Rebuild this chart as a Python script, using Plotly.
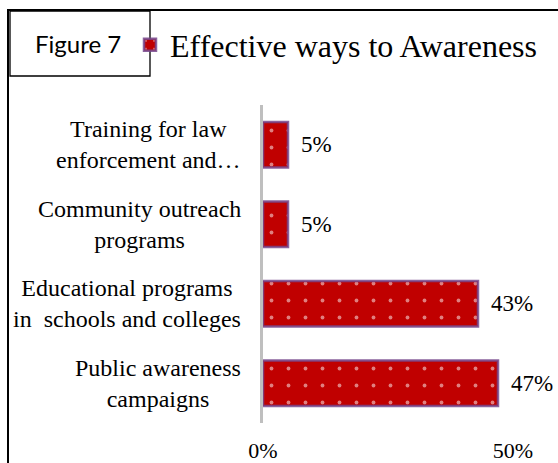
import plotly.graph_objects as go

# Survey results: effective ways to raise awareness (share of respondents, %)
categories = [
    "Public awareness<br>campaigns",
    "Educational programs<br>in  schools and colleges",
    "Community outreach<br>programs",
    "Training for law<br>enforcement and…",
]
values = [47, 43, 5, 5]
value_labels = ["47%", "43%", "5%", "5%"]
x_ticks = [0, 50]
x_tick_labels = ["0%", "50%"]
series_name = "Effective ways to Awareness"

W, H = 558, 463
M_L, M_R, M_T, M_B = 263, 45, 105, 40
PW, PH = W - M_L - M_R, H - M_T - M_B


def px_x(px):
    return (px - M_L) / PW


def px_y(py):
    return (H - M_B - py) / PH


serif = "Liberation Serif, Times New Roman, serif"

fig = go.Figure()
fig.add_trace(go.Bar(
    y=categories,
    x=values,
    orientation="h",
    name=series_name,
    showlegend=True,
    marker=dict(
        color="#C00000",
        line=dict(color="rgba(118,70,140,0.85)", width=2.5),
        pattern=dict(shape=".", fgcolor="white", size=17, solidity=0.04,
                     fillmode="overlay"),
    ),
    hoverinfo="skip",
))

annotations = []
# value labels just beyond each bar end
for cat, v, lab in zip(categories, values, value_labels):
    annotations.append(dict(
        x=v, y=cat, xref="x", yref="y", text=lab, showarrow=False,
        xanchor="left", xshift=11, font=dict(family=serif, size=23, color="black"),
    ))
# category labels, centred lines, right edge just left of the axis
for cat in categories:
    annotations.append(dict(
        x=px_x(243), y=cat, xref="paper", yref="y", text=cat, showarrow=False,
        xanchor="right", align="center",
        font=dict(family=serif, size=24, color="black"),
    ))
# caption box text
annotations.append(dict(
    x=px_x(78), y=px_y(44), xref="paper", yref="paper", text="Figure 7",
    showarrow=False, xanchor="center", yanchor="middle",
    font=dict(family="Lato, Carlito, Calibri, sans-serif", size=24, color="black"),
))

shapes = [
    # outer frame (top and left edges)
    dict(type="line", xref="paper", yref="paper", x0=px_x(7), x1=px_x(W + 5),
         y0=px_y(10), y1=px_y(10), line=dict(color="black", width=2)),
    dict(type="line", xref="paper", yref="paper", x0=px_x(8), x1=px_x(8),
         y0=px_y(10), y1=px_y(H + 5), line=dict(color="black", width=2)),
    # caption box
    dict(type="rect", xref="paper", yref="paper", x0=px_x(10), x1=px_x(150),
         y0=px_y(11), y1=px_y(76), line=dict(color="black", width=1.3),
         fillcolor="white"),
]

fig.update_layout(
    width=W, height=H,
    margin=dict(l=M_L, r=M_R, t=M_T, b=M_B, pad=0, autoexpand=False),
    paper_bgcolor="white", plot_bgcolor="white",
    bargap=0.43,
    showlegend=True,
    legend=dict(
        x=px_x(130), y=px_y(45), xanchor="left", yanchor="middle",
        xref="paper", yref="paper",
        font=dict(family=serif, size=32, color="black"),
        bgcolor="rgba(0,0,0,0)", itemwidth=30,
    ),
    xaxis=dict(
        range=[0, 50], tickvals=x_ticks, ticktext=x_tick_labels,
        showgrid=False, zeroline=False, showline=False, ticks="",
        tickfont=dict(family=serif, size=22, color="black"),
        ticklabelstandoff=12, fixedrange=True, automargin=False,
    ),
    yaxis=dict(
        categoryorder="array", categoryarray=categories,
        showticklabels=False, showgrid=False, zeroline=False,
        showline=True, linecolor="#BFBFBF", linewidth=3, ticks="",
        fixedrange=True, automargin=False,
    ),
    annotations=annotations,
    shapes=shapes,
)

fig.write_html("out.html")
